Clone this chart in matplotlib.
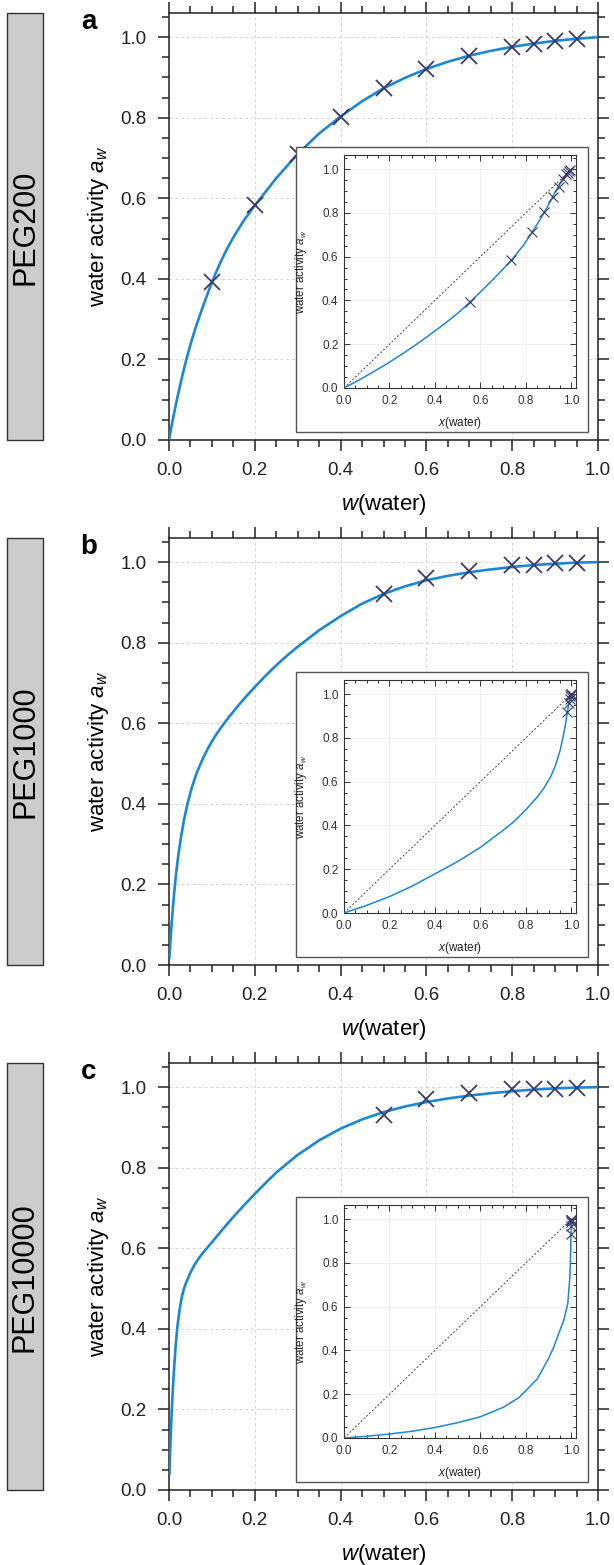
import matplotlib
matplotlib.use('Agg')
import matplotlib.pyplot as plt
from matplotlib.patches import Rectangle
from matplotlib.ticker import MultipleLocator

plt.rcParams['font.family'] = ['Liberation Sans', 'DejaVu Sans']
plt.rcParams['mathtext.fontset'] = 'custom'
plt.rcParams['mathtext.rm'] = 'Liberation Sans'
plt.rcParams['mathtext.it'] = 'Liberation Sans:italic'

# ---------------- data ----------------
panel_names = ['PEG200', 'PEG1000', 'PEG10000']
panel_letters = ['a', 'b', 'c']

# PEG200
peg200_meas_w = [0.1, 0.2, 0.3, 0.4, 0.5, 0.6, 0.7, 0.8, 0.85, 0.9, 0.95]
peg200_meas_aw = [0.391, 0.583, 0.711, 0.802, 0.873, 0.920, 0.954, 0.975, 0.983, 0.990, 0.995]
peg200_meas_x = [0.5525, 0.7353, 0.8264, 0.8811, 0.9174, 0.9434, 0.9629, 0.978, 0.9844, 0.9901, 0.9953]
peg200_curve_w = [0, 0.005, 0.01, 0.02, 0.03, 0.04, 0.05, 0.06, 0.07, 0.08, 0.09, 0.1, 0.11,
                  0.12, 0.135, 0.15, 0.175, 0.2, 0.25, 0.3, 0.35, 0.4, 0.45, 0.5, 0.55, 0.6,
                  0.65, 0.7, 0.75, 0.8, 0.85, 0.9, 0.95, 1.0]
peg200_curve_aw = [0, 0.029, 0.057, 0.108, 0.155, 0.198, 0.237, 0.272, 0.304, 0.334, 0.363,
                   0.391, 0.417, 0.441, 0.474, 0.503, 0.546, 0.582, 0.650, 0.710, 0.761,
                   0.803, 0.841, 0.873, 0.899, 0.921, 0.939, 0.954, 0.966, 0.976, 0.984,
                   0.991, 0.996, 1.0]
peg200_inset_x = [0, 0.0529, 0.1009, 0.1848, 0.2558, 0.3165, 0.369, 0.4149, 0.4554, 0.4914,
                  0.5236, 0.5525, 0.5786, 0.6024, 0.6343, 0.6622, 0.7021, 0.7353, 0.7874,
                  0.8264, 0.8568, 0.8811, 0.9009, 0.9174, 0.9314, 0.9434, 0.9538, 0.9629,
                  0.9709, 0.978, 0.9844, 0.9901, 0.9953, 1.0]
peg200_inset_aw = peg200_curve_aw

# PEG1000
peg1000_meas_w = [0.5, 0.6, 0.7, 0.8, 0.85, 0.9, 0.95]
peg1000_meas_aw = [0.920, 0.960, 0.977, 0.993, 0.994, 0.998, 0.999]
peg1000_meas_x = [0.9823, 0.9881, 0.9923, 0.9955, 0.9968, 0.998, 0.9991]
peg1000_curve_w = [0.001, 0.002, 0.004, 0.006, 0.009, 0.012, 0.016, 0.022, 0.028, 0.035,
                   0.043, 0.053, 0.065, 0.08, 0.09, 0.1, 0.11, 0.125, 0.14, 0.16, 0.18, 0.2,
                   0.225, 0.25, 0.275, 0.3, 0.35, 0.4, 0.45, 0.5, 0.55, 0.6, 0.65, 0.7,
                   0.75, 0.8, 0.85, 0.9, 0.95, 1.0]
peg1000_curve_aw = [0.018, 0.036, 0.070, 0.100, 0.142, 0.178, 0.222, 0.275, 0.318, 0.360,
                    0.400, 0.440, 0.478, 0.515, 0.536, 0.555, 0.572, 0.595, 0.616, 0.642,
                    0.667, 0.690, 0.718, 0.744, 0.768, 0.790, 0.831, 0.866, 0.897, 0.921,
                    0.940, 0.955, 0.966, 0.975, 0.982, 0.988, 0.993, 0.996, 0.999, 1.0]
peg1000_inset_x = [0, 0.1, 0.2, 0.3, 0.4, 0.5, 0.6, 0.7, 0.75, 0.8, 0.85, 0.88, 0.91, 0.93,
                   0.95, 0.965, 0.975, 0.982, 0.988, 0.992, 0.995, 0.998, 1.0]
peg1000_inset_aw = [0, 0.035, 0.075, 0.123, 0.179, 0.235, 0.300, 0.378, 0.420, 0.472, 0.530,
                    0.572, 0.625, 0.675, 0.742, 0.812, 0.870, 0.918, 0.953, 0.972, 0.985,
                    0.995, 1.0]

# PEG10000
peg10000_meas_w = [0.5, 0.6, 0.7, 0.8, 0.85, 0.9, 0.95]
peg10000_meas_aw = [0.931, 0.970, 0.985, 0.995, 0.995, 0.996, 0.997]
peg10000_meas_x = [0.9982, 0.9988, 0.99923, 0.99955, 0.99968, 0.9998, 0.99991]
peg10000_curve_w = [0.001, 0.002, 0.003, 0.004, 0.006, 0.008, 0.01, 0.013, 0.016, 0.02,
                    0.025, 0.03, 0.035, 0.04, 0.05, 0.06, 0.07, 0.08, 0.1, 0.125,
                    0.15, 0.175, 0.2, 0.225, 0.25, 0.3, 0.35, 0.4, 0.45, 0.5,
                    0.55, 0.6, 0.65, 0.7, 0.75, 0.8, 0.85, 0.9, 0.95, 1.0]
peg10000_curve_aw = [0.04, 0.075, 0.105, 0.135, 0.185, 0.23, 0.27, 0.32, 0.365, 0.41,
                     0.45, 0.48, 0.50, 0.515, 0.54, 0.56, 0.576, 0.59, 0.615, 0.647,
                     0.678, 0.707, 0.735, 0.762, 0.788, 0.832, 0.868, 0.897, 0.92, 0.938,
                     0.952, 0.963, 0.972, 0.979, 0.985, 0.99, 0.994, 0.997, 0.999, 1.0]
peg10000_inset_x = [0, 0.1, 0.2, 0.3, 0.4, 0.5, 0.6, 0.7, 0.77, 0.85, 0.9, 0.92, 0.945, 0.967,
                    0.984, 0.993, 0.996, 0.998, 0.9995, 1.0]
peg10000_inset_aw = [0, 0.008, 0.018, 0.031, 0.048, 0.07, 0.097, 0.14, 0.185, 0.27, 0.365,
                     0.41, 0.48, 0.54, 0.615, 0.735, 0.835, 0.937, 0.985, 1.0]

diag = [0, 1]

panels = [
    (peg200_curve_w, peg200_curve_aw, peg200_meas_w, peg200_meas_aw,
     peg200_inset_x, peg200_inset_aw, peg200_meas_x),
    (peg1000_curve_w, peg1000_curve_aw, peg1000_meas_w, peg1000_meas_aw,
     peg1000_inset_x, peg1000_inset_aw, peg1000_meas_x),
    (peg10000_curve_w, peg10000_curve_aw, peg10000_meas_w, peg10000_meas_aw,
     peg10000_inset_x, peg10000_inset_aw, peg10000_meas_x),
]

# ---------------- styling ----------------
W, H = 614, 1565
CURVE = '#1b87d6'
MARK = '#3b3a6c'

fig = plt.figure(figsize=(W / 100, H / 100), dpi=100)


def frect(x0, y0, x1, y1):
    return [x0 / W, 1 - y1 / H, (x1 - x0) / W, (y1 - y0) / H]


for i, (cw, ca, mw, ma, ix, ia, mx) in enumerate(panels):
    dy = 525 * i
    # side label box
    fig.patches.append(Rectangle((7 / W, 1 - (440 + dy) / H), 36 / W, 427 / H,
                                 transform=fig.transFigure, fc='#cccccc', ec='#333333',
                                 lw=1.0, zorder=0))
    fig.text(25 / W, 1 - (227 + dy) / H, panel_names[i], rotation=90, fontsize=22,
             ha='center', va='center')
    fig.text(89 / W, 1 - (22 + dy) / H, panel_letters[i], fontsize=20, fontweight='bold',
             ha='center', va='center')

    ax = fig.add_axes(frect(169, 13 + dy, 598, 440 + dy))
    ax.set_xlim(0, 1)
    ax.set_ylim(0, 1.06)
    ax.xaxis.set_major_locator(MultipleLocator(0.2))
    ax.xaxis.set_minor_locator(MultipleLocator(0.05))
    ax.yaxis.set_major_locator(MultipleLocator(0.2))
    ax.yaxis.set_minor_locator(MultipleLocator(0.05))
    ax.xaxis.set_major_formatter(plt.FormatStrFormatter('%.1f'))
    ax.yaxis.set_major_formatter(plt.FormatStrFormatter('%.1f'))
    ax.tick_params(which='both', direction='out', top=True, right=True, width=1.1,
                   colors='#222222', labelsize=13.5, pad=8)
    ax.tick_params(which='major', length=8)
    ax.tick_params(which='minor', length=5)
    for s in ax.spines.values():
        s.set_linewidth(1.1)
        s.set_color('#222222')
    ax.grid(True, which='major', color='#d4d4d4', ls=(0, (3, 3)), lw=0.7)
    ax.set_axisbelow(True)
    ax.plot(cw, ca, color=CURVE, lw=1.9, zorder=3)
    ax.plot(mw, ma, ls='none', marker='x', ms=12, mew=1.3, color=MARK, zorder=4)
    ax.set_xlabel('$w$(water)', fontsize=16)
    ax.set_ylabel('water activity $a_w$', fontsize=16)
    ax.xaxis.set_label_coords(0.5, -0.122)
    ax.yaxis.set_label_coords(-0.136, 0.5)

    # inset frame
    ax.add_patch(Rectangle((296 / W, 1 - (432 + dy) / H), 292 / W, 285 / H,
                           transform=fig.transFigure, fc='white', ec='#555555', lw=1.0,
                           zorder=10, clip_on=False))

    ins = fig.add_axes(frect(344, 155 + dy, 576, 388 + dy))
    ins.set_xlim(0, 1.02)
    ins.set_ylim(0, 1.064)
    ins.xaxis.set_major_locator(MultipleLocator(0.2))
    ins.xaxis.set_minor_locator(MultipleLocator(0.05))
    ins.yaxis.set_major_locator(MultipleLocator(0.2))
    ins.yaxis.set_minor_locator(MultipleLocator(0.05))
    ins.xaxis.set_major_formatter(plt.FormatStrFormatter('%.1f'))
    ins.yaxis.set_major_formatter(plt.FormatStrFormatter('%.1f'))
    ins.tick_params(which='both', direction='in', top=True, right=True, width=0.7,
                    colors='#333333', labelsize=8.5)
    ins.tick_params(axis='x', pad=5)
    ins.tick_params(axis='y', pad=4)
    ins.tick_params(which='major', length=4)
    ins.tick_params(which='minor', length=2.5)
    for s in ins.spines.values():
        s.set_linewidth(0.8)
        s.set_color('#333333')
    ins.grid(True, which='major', color='#ececec', ls='-', lw=0.5)
    ins.set_axisbelow(True)
    ins.plot(diag, diag, color='#444444', ls=(0, (2, 2)), lw=0.7, zorder=2)
    ins.plot(ix, ia, color=CURVE, lw=1.1, zorder=3)
    ins.plot(mx, ma, ls='none', marker='x', ms=7, mew=0.8, color=MARK, zorder=4,
             clip_on=False)
    ins.set_xlabel('$x$(water)', fontsize=8.5, color='#222222')
    ins.set_ylabel('water activity $a_w$', fontsize=8.3, color='#222222')
    ins.xaxis.set_label_coords(0.5, -0.115)
    ins.yaxis.set_label_coords(-0.15, 0.5)

fig.savefig('out.png', dpi=100)
